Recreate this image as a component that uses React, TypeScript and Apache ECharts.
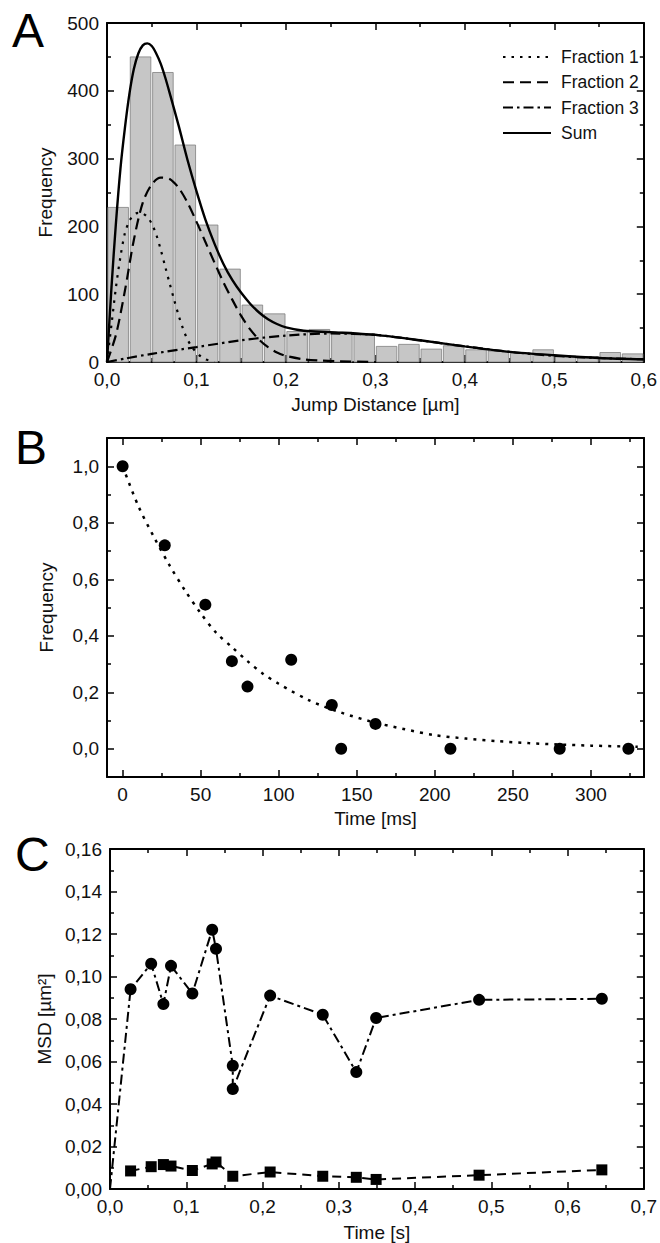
import React, { useEffect, useRef } from "react";
import * as echarts from "echarts";

// ---------- Panel A: jump distance histogram ----------
const BIN_WIDTH = 0.025;
const HIST_BIN_START = [0, 0.025, 0.05, 0.075, 0.1, 0.125, 0.15, 0.175, 0.2, 0.225, 0.25, 0.275, 0.3, 0.325, 0.35, 0.375, 0.4, 0.425, 0.45, 0.475, 0.5, 0.525, 0.55, 0.575];
const HIST_COUNTS = [228, 450, 427, 320, 202, 137, 84, 71, 45, 48, 44, 42, 23, 26, 19, 24, 18, 16, 13, 18, 9, 8, 14, 12];

const FRACTION1 = [[0, 0], [0.005, 55], [0.01, 110], [0.015, 155], [0.02, 190], [0.025, 208], [0.03, 217], [0.035, 220], [0.04, 219], [0.045, 214], [0.05, 204], [0.055, 188], [0.06, 166], [0.065, 141], [0.07, 116], [0.075, 92], [0.08, 69], [0.085, 49], [0.09, 33], [0.095, 22], [0.1, 14], [0.105, 8], [0.11, 4], [0.115, 2], [0.12, 0]];
const FRACTION2 = [[0, 0], [0.01, 40], [0.02, 105], [0.03, 180], [0.04, 235], [0.05, 262], [0.06, 272], [0.07, 270], [0.08, 257], [0.09, 235], [0.1, 207], [0.11, 177], [0.12, 147], [0.13, 118], [0.14, 92], [0.15, 68], [0.16, 48], [0.17, 33], [0.18, 22], [0.19, 14], [0.2, 9], [0.22, 4], [0.24, 2], [0.26, 1], [0.3, 0]];
const FRACTION3 = [[0, 0], [0.02, 5], [0.05, 12], [0.1, 22], [0.15, 32], [0.2, 39], [0.25, 42], [0.3, 40], [0.35, 32], [0.4, 23], [0.45, 15], [0.5, 9], [0.55, 6], [0.6, 4]];
const SUM = [[0, 0], [0.005, 110], [0.01, 205], [0.015, 285], [0.02, 345], [0.025, 395], [0.03, 432], [0.035, 455], [0.04, 467], [0.045, 470], [0.05, 466], [0.055, 455], [0.06, 440], [0.065, 420], [0.07, 397], [0.08, 349], [0.09, 298], [0.1, 252], [0.11, 210], [0.12, 175], [0.13, 145], [0.14, 121], [0.15, 102], [0.16, 86], [0.17, 73], [0.18, 63], [0.19, 56], [0.2, 51], [0.22, 46], [0.25, 44], [0.3, 40], [0.35, 32], [0.4, 23], [0.45, 15], [0.5, 10], [0.55, 6], [0.6, 4]];

// ---------- Panel B: frequency vs time ----------
const B_TIME = [0, 27, 53, 70, 80, 108, 134, 140, 162, 210, 280, 324];
const B_FREQ = [1.0, 0.72, 0.51, 0.31, 0.22, 0.315, 0.155, 0.0, 0.088, 0.0, 0.0, 0.0];
const B_FIT = [[0, 1.0], [10, 0.86], [20, 0.75], [30, 0.65], [40, 0.56], [50, 0.48], [60, 0.41], [70, 0.36], [80, 0.31], [90, 0.265], [100, 0.23], [120, 0.17], [140, 0.128], [160, 0.095], [180, 0.07], [200, 0.048], [220, 0.036], [240, 0.027], [260, 0.02], [280, 0.015], [300, 0.011], [330, 0.007]];
const B_X_MAJOR = [0, 50, 100, 150, 200, 250, 300];
const B_X_MINOR = [25, 75, 125, 175, 225, 275, 325];
const B_Y_MAJOR = [0, 0.2, 0.4, 0.6, 0.8, 1.0];
const B_Y_MINOR = [0.1, 0.3, 0.5, 0.7, 0.9];

// ---------- Panel C: MSD vs time ----------
const C_CIRCLE_T = [0, 0.027, 0.054, 0.07, 0.08, 0.108, 0.134, 0.139, 0.161, 0.161, 0.21, 0.279, 0.323, 0.349, 0.484, 0.645];
const C_CIRCLE_MSD = [0, 0.094, 0.106, 0.087, 0.105, 0.092, 0.122, 0.113, 0.058, 0.047, 0.091, 0.082, 0.055, 0.0805, 0.089, 0.0895];
const C_SQUARE_T = [0.027, 0.054, 0.07, 0.08, 0.108, 0.134, 0.139, 0.161, 0.21, 0.279, 0.323, 0.349, 0.484, 0.645];
const C_SQUARE_MSD = [0.0085, 0.0105, 0.0115, 0.0108, 0.0087, 0.0118, 0.0127, 0.006, 0.008, 0.006, 0.0055, 0.0045, 0.0065, 0.009];

const FONT = "'Liberation Sans', Arial, Helvetica, sans-serif";
const comma = (v: number, d: number) => v.toFixed(d).replace(".", ",");

const baseAxis = (extra: any) => {
  const a: any = {
    type: "value",
    axisLine: { show: true, onZero: false, lineStyle: { color: "#000", width: 2 } },
    axisTick: { show: true, inside: true, length: 7, lineStyle: { color: "#000", width: 1.5 } },
    splitLine: { show: false },
    axisLabel: { show: true, color: "#111", fontFamily: FONT, fontSize: 19, margin: 8 },
    nameTextStyle: { color: "#111", fontFamily: FONT, fontSize: 19 },
  };
  return echarts.util.merge(a, extra, true);
};

export default function App() {
  const ref = useRef<HTMLDivElement>(null);
  useEffect(() => {
    if (!ref.current) return;
    const chart = echarts.init(ref.current, null, { renderer: "svg" });
    const minorA = { show: true, splitNumber: 2, length: 4, lineStyle: { color: "#000", width: 1.5 } };

    const xAxis: any[] = [
      baseAxis({ gridIndex: 0, position: "bottom", min: 0, max: 0.6, interval: 0.1, minorTick: minorA,
        axisLabel: { formatter: (v: number) => comma(v, 1) },
        name: "Jump Distance [µm]", nameLocation: "middle", nameGap: 33 }),
      baseAxis({ gridIndex: 0, position: "top", min: 0, max: 0.6, interval: 0.1, minorTick: minorA, axisLabel: { show: false } }),
      baseAxis({ gridIndex: 1, position: "bottom", min: -10, max: 334,
        axisLabel: { customValues: B_X_MAJOR, formatter: (v: number) => String(Math.round(v)) },
        axisTick: { customValues: B_X_MAJOR },
        name: "Time [ms]", nameLocation: "middle", nameGap: 32 }),
      baseAxis({ gridIndex: 1, position: "bottom", min: -10, max: 334, axisLine: { show: false },
        axisLabel: { show: false }, axisTick: { customValues: B_X_MINOR, length: 4 } }),
      baseAxis({ gridIndex: 1, position: "top", min: -10, max: 334,
        axisLabel: { show: false }, axisTick: { customValues: B_X_MAJOR } }),
      baseAxis({ gridIndex: 1, position: "top", min: -10, max: 334, axisLine: { show: false },
        axisLabel: { show: false }, axisTick: { customValues: B_X_MINOR, length: 4 } }),
      baseAxis({ gridIndex: 2, position: "bottom", min: 0, max: 0.7, interval: 0.1, minorTick: minorA,
        axisLabel: { formatter: (v: number) => comma(v, 1) },
        name: "Time [s]", nameLocation: "middle", nameGap: 34 }),
      baseAxis({ gridIndex: 2, position: "top", min: 0, max: 0.7, interval: 0.1, minorTick: minorA, axisLabel: { show: false } }),
    ];

    const yAxis: any[] = [
      baseAxis({ gridIndex: 0, position: "left", min: 0, max: 500, interval: 100, minorTick: minorA,
        name: "Frequency", nameLocation: "middle", nameGap: 52 }),
      baseAxis({ gridIndex: 0, position: "right", min: 0, max: 500, interval: 100, minorTick: minorA, axisLabel: { show: false } }),
      baseAxis({ gridIndex: 1, position: "left", min: -0.1, max: 1.1,
        axisLabel: { customValues: B_Y_MAJOR, formatter: (v: number) => comma(v, 1) },
        axisTick: { customValues: B_Y_MAJOR },
        name: "Frequency", nameLocation: "middle", nameGap: 51 }),
      baseAxis({ gridIndex: 1, position: "left", min: -0.1, max: 1.1, axisLine: { show: false },
        axisLabel: { show: false }, axisTick: { customValues: B_Y_MINOR, length: 4 } }),
      baseAxis({ gridIndex: 1, position: "right", min: -0.1, max: 1.1,
        axisLabel: { show: false }, axisTick: { customValues: B_Y_MAJOR } }),
      baseAxis({ gridIndex: 1, position: "right", min: -0.1, max: 1.1, axisLine: { show: false },
        axisLabel: { show: false }, axisTick: { customValues: B_Y_MINOR, length: 4 } }),
      baseAxis({ gridIndex: 2, position: "left", min: 0, max: 0.16, interval: 0.02, minorTick: minorA,
        axisLabel: { formatter: (v: number) => comma(v, 2) },
        name: "MSD [µm²]", nameLocation: "middle", nameGap: 55 }),
      baseAxis({ gridIndex: 2, position: "right", min: 0, max: 0.16, interval: 0.02, minorTick: minorA, axisLabel: { show: false } }),
    ];

    const histData = HIST_BIN_START.map((s, i) => [s, s + BIN_WIDTH, HIST_COUNTS[i]]);
    const lineCommon = { type: "line", symbol: "none", smooth: 0.3, color: "#000", xAxisIndex: 0, yAxisIndex: 0, z: 5 };

    const option: any = {
      animation: false,
      backgroundColor: "#fff",
      color: ["#000"],
      grid: [
        { left: 107, top: 23, width: 537, height: 339 },
        { left: 107, top: 438, width: 537, height: 339 },
        { left: 110, top: 849, width: 534, height: 340 },
      ],
      xAxis,
      yAxis,
      legend: {
        orient: "vertical",
        left: 497,
        top: 43,
        itemWidth: 48,
        itemHeight: 18,
        itemGap: 7.3,
        itemStyle: { opacity: 0 },
        data: ["Fraction 1", "Fraction 2", "Fraction 3", "Sum"],
        textStyle: { color: "#111", fontFamily: FONT, fontSize: 17.5, padding: [0, 0, 0, 5] },
      },
      graphic: [
        { type: "text", left: 12, top: 6, style: { text: "A", font: `48px ${FONT}`, fill: "#000" } },
        { type: "text", left: 15, top: 423, style: { text: "B", font: `48px ${FONT}`, fill: "#000" } },
        { type: "text", left: 15, top: 830, style: { text: "C", font: `48px ${FONT}`, fill: "#000" } },
      ],
      series: [
        {
          type: "custom",
          xAxisIndex: 0,
          yAxisIndex: 0,
          data: histData,
          encode: { x: [0, 1], y: 2 },
          z: 2,
          renderItem: (params: any, api: any) => {
            const p0 = api.coord([api.value(0), api.value(2)]);
            const p1 = api.coord([api.value(1), 0]);
            return {
              type: "rect",
              shape: { x: p0[0] + 0.9, y: p0[1], width: p1[0] - p0[0] - 1.8, height: p1[1] - p0[1] },
              style: { fill: "#c6c6c6", stroke: "#808080", lineWidth: 0.8 },
            };
          },
        },
        { ...lineCommon, name: "Fraction 1", data: FRACTION1, lineStyle: { color: "#000", width: 2.2, type: [2.5, 6] } },
        { ...lineCommon, name: "Fraction 2", data: FRACTION2, lineStyle: { color: "#000", width: 2.2, type: [11, 6] } },
        { ...lineCommon, name: "Fraction 3", data: FRACTION3, lineStyle: { color: "#000", width: 2.2, type: [10, 4, 2.5, 4] } },
        { ...lineCommon, name: "Sum", data: SUM, lineStyle: { color: "#000", width: 2.4, type: "solid" } },
        {
          type: "line", xAxisIndex: 2, yAxisIndex: 2, symbol: "none", smooth: 0.3,
          data: B_FIT, lineStyle: { color: "#000", width: 2.5, type: [3, 6] }, z: 3,
        },
        {
          type: "scatter", xAxisIndex: 2, yAxisIndex: 2, symbol: "circle", symbolSize: 12,
          itemStyle: { color: "#000", opacity: 1 }, data: B_TIME.map((t, i) => [t, B_FREQ[i]]), z: 4,
        },
        {
          type: "line", xAxisIndex: 6, yAxisIndex: 6, symbol: "circle", symbolSize: 12,
          itemStyle: { color: "#000" }, lineStyle: { color: "#000", width: 2, type: [10, 4, 3, 4] },
          data: C_CIRCLE_T.map((t, i) => (i === 0 ? { value: [t, C_CIRCLE_MSD[i]], symbol: "none" } : [t, C_CIRCLE_MSD[i]])),
        },
        {
          type: "line", xAxisIndex: 6, yAxisIndex: 6, symbol: "rect", symbolSize: 11,
          itemStyle: { color: "#000" }, lineStyle: { color: "#000", width: 2, type: [9, 6] },
          data: C_SQUARE_T.map((t, i) => [t, C_SQUARE_MSD[i]]),
        },
      ],
    };
    chart.setOption(option);
    return () => chart.dispose();
  }, []);
  return <div ref={ref} style={{ position: "absolute", left: 0, top: 0, width: 660, height: 1243, background: "#fff" }} />;
}
